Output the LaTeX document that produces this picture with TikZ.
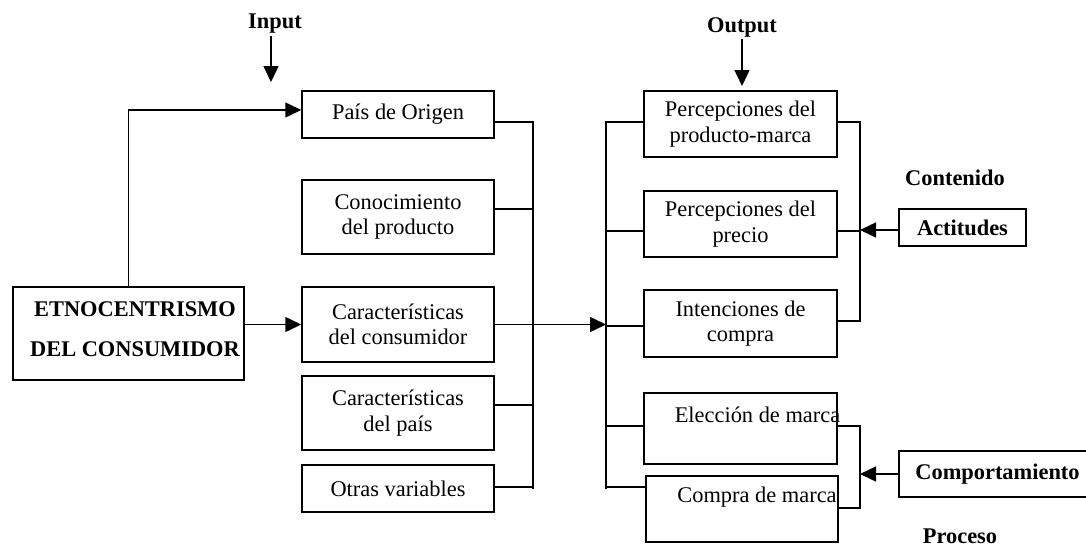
\documentclass[tikz,border=0pt]{standalone}
\usepackage{fontspec}
\setmainfont{Liberation Serif}
\usetikzlibrary{arrows.meta}
\newcommand\mysz{\fontsize{22.4}{25.5}\selectfont}
\begin{document}
\begin{tikzpicture}[x=1pt,y=-1pt,
  box/.style={draw, line width=1.5pt, rectangle, inner sep=0pt, align=center, font=\mysz},
  ln/.style={line width=1.5pt},
  arr/.style={ln, -{Triangle[length=16pt,width=15pt]}},
  lbl/.style={font=\mysz\bfseries, inner sep=0pt, align=center},
  txt/.style={font=\mysz, inner sep=0pt, align=center}]
\clip (0,0) rectangle (1086,552);
\fill[white] (0,0) rectangle (1086,552);

% left column
\node[box, minimum width=192pt, minimum height=47pt] (pais)  at (398,114.5) {Pa\'is de Origen};
\node[box, minimum width=192pt, minimum height=74pt] (conoc) at (398,217) {Conocimiento\\del producto};
\node[box, minimum width=192pt, minimum height=75pt] (carc)  at (398,324.5) {Caracter\'isticas\\del consumidor};
\node[box, minimum width=192pt, minimum height=74pt] (carp)  at (398,413) {Caracter\'isticas\\del pa\'is};
\node[box, minimum width=192pt, minimum height=47pt] (otras) at (398,488.5) {Otras variables};

% source box
\node[box, minimum width=231pt, minimum height=93pt] (etno) at (128.5,333.5) {};
\node[lbl] (etnotxt) at (135,329) {ETNOCENTRISMO\\[14.5pt]DEL CONSUMIDOR};

% right column
\node[box, minimum width=193pt, minimum height=66pt] (perc1) at (740.5,124) {Percepciones del\\producto-marca};
\node[box, minimum width=193pt, minimum height=66pt] (perc2) at (740.5,224) {Percepciones del\\precio};
\node[box, minimum width=193pt, minimum height=67pt] (inten) at (740.5,323.5) {Intenciones de\\compra};
\node[box, minimum width=193pt, minimum height=71pt] (elec)  at (740.5,428.5) {};
\node[txt] (electxt) at (757.5,415) {Elecci\'on de marca};
\node[box, minimum width=192pt, minimum height=66pt] (compra) at (742,509) {};
\node[txt] (compratxt) at (757,497) {Compra de marca};

% far right
\node[box, font=\mysz\bfseries, minimum width=127pt, minimum height=37pt] (act) at (962.5,227.5) {Actitudes};
\node[box, font=\mysz\bfseries, minimum width=197pt, minimum height=46pt] (comp) at (997.5,474) {Comportamiento};
\node[lbl] (cont) at (955,178) {Contenido};
\node[lbl] (proc) at (960,536) {Proceso};

% input / output labels
\node[lbl] (input) at (275,24) {Input};
\coordinate (intip) at (271,82);
\draw[arr, shorten <=2pt] (input.south -| intip) -- (intip);
\node[lbl] (output) at (742,27) {Output};
\coordinate (outtip) at (742,86);
\draw[arr, shorten <=2pt] (output.south -| outtip) -- (outtip);

% etno connections
\path ([yshift=4.5pt]pais.west) coordinate (pw);
\draw[arr] (etno.north) |- (pw);
\draw[arr] (etno.east |- carc.west) -- (carc.west);

% input bus
\coordinate (ib) at (533,489);
\path ([yshift=-7.5pt]pais.east) coordinate (pe);
\path ([yshift=8pt]conoc.east) coordinate (ce);
\path ([yshift=8pt]carp.east) coordinate (cpe);
\path ([yshift=1.5pt]otras.east) coordinate (oe);
\draw[ln] (pe) -| (ib);
\draw[ln] (ce) -- (ce -| ib);
\draw[ln] (cpe) -- (cpe -| ib);
\draw[ln] (oe) -- (oe -| ib);

% output bus
\coordinate (ob) at (606,489);
\draw[arr] (carc.east) -- (carc.east -| ob);
\path ([yshift=2pt]perc1.west) coordinate (p1l);
\path ([yshift=-7pt]perc2.west) coordinate (p2l);
\path ([yshift=-2.5pt]inten.west) coordinate (il);
\path ([yshift=2.5pt]elec.west) coordinate (el);
\path ([yshift=22pt]compra.west) coordinate (col);
\draw[ln] (p1l) -| (ob);
\draw[ln] (p2l -| ob) -- (p2l);
\draw[ln] (il -| ob) -- (il);
\draw[ln] (el -| ob) -- (el);
\draw[ln] (col -| ob) -- (col);

% right bus 1
\coordinate (rb1) at (860,321);
\path ([yshift=2pt]perc1.east) coordinate (p1r);
\path ([yshift=-7pt]perc2.east) coordinate (p2r);
\path ([yshift=2.5pt]inten.east) coordinate (ir);
\draw[ln] (p1r) -| (rb1) -- (ir);
\draw[ln] (p2r) -- (p2r -| rb1);
\path ([yshift=-2.5pt]act.west) coordinate (aw);
\draw[arr] (aw) -- (aw -| rb1);

% right bus 2
\coordinate (rb2) at (860,508);
\path ([yshift=2.5pt]elec.east) coordinate (er);
\path ([yshift=1pt]compra.east) coordinate (cor);
\draw[ln] (er) -| (rb2) -- (cor);
\draw[arr] (comp.west) -- (comp.west -| rb2);
\end{tikzpicture}
\end{document}
